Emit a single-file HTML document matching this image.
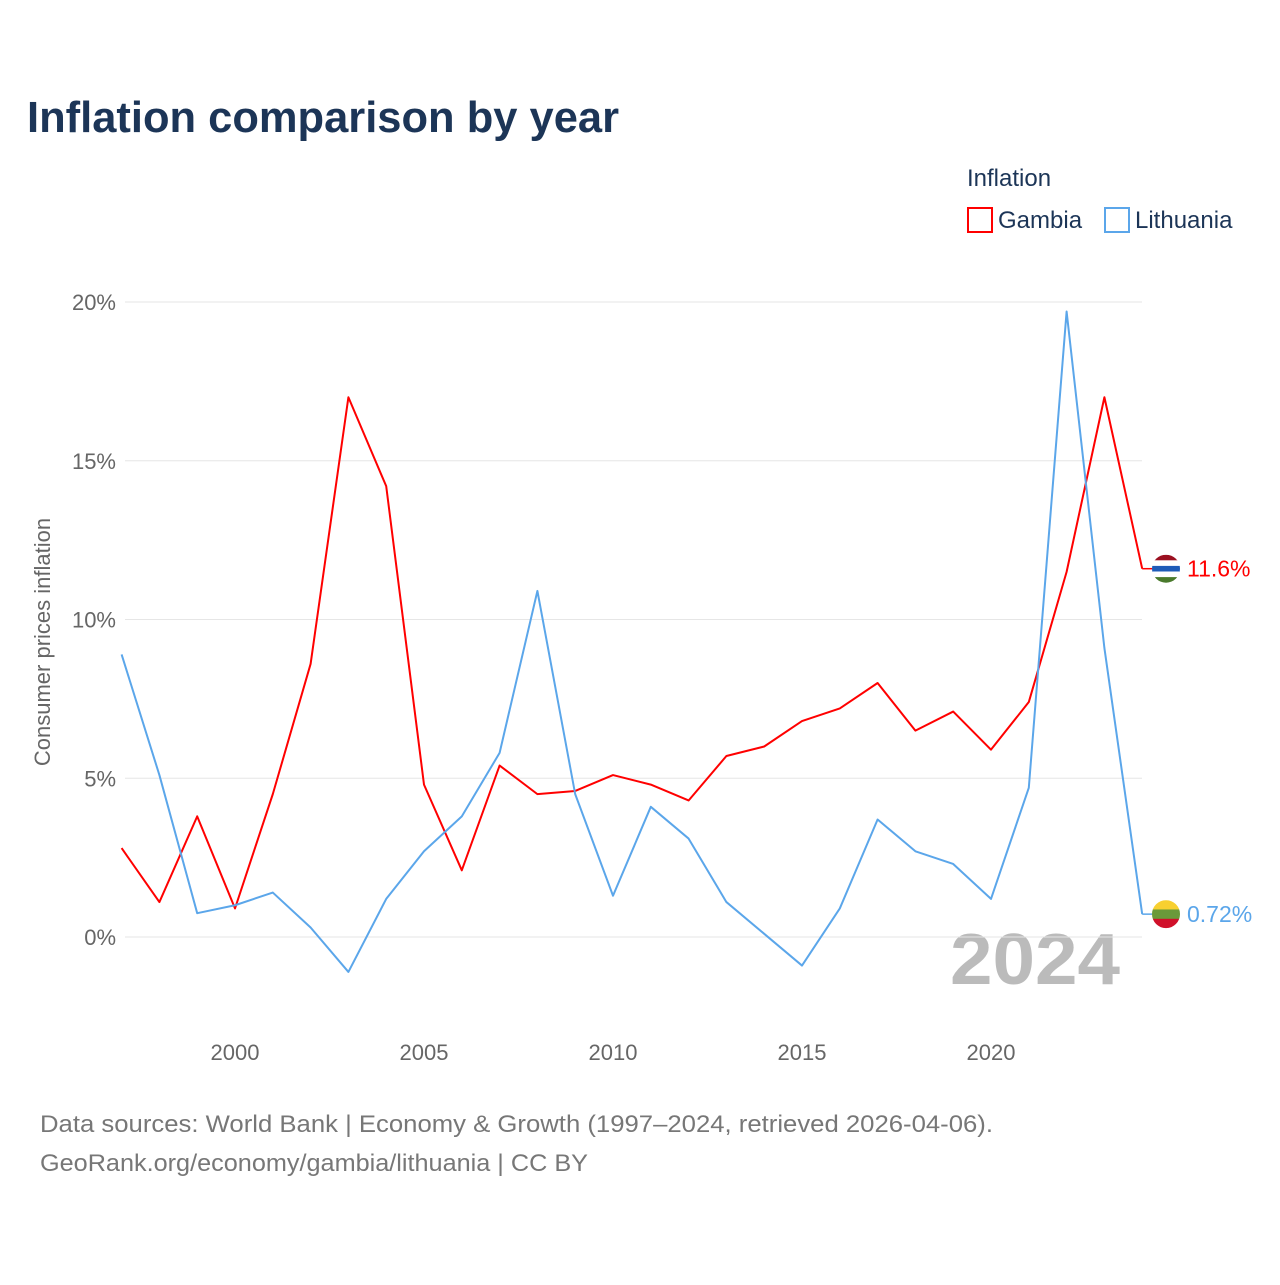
<!DOCTYPE html>
<html><head><meta charset="utf-8"><style>
body{margin:0;background:#fff;font-family:"Liberation Sans",sans-serif}
</style></head><body>
<svg id="c" width="1280" height="1280" xmlns="http://www.w3.org/2000/svg" font-family="Liberation Sans, sans-serif">
<rect width="1280" height="1280" fill="#fff"/>
<text x="27" y="132" font-size="44" font-weight="bold" fill="#1c3557" textLength="592" lengthAdjust="spacingAndGlyphs">Inflation comparison by year</text>
<text x="967" y="186" font-size="24" fill="#1c3557">Inflation</text>
<g><rect x="968" y="208" width="24" height="24" fill="none" stroke="#f00" stroke-width="2"/><text x="998" y="228" font-size="24" fill="#1c3557">Gambia</text></g>
<g><rect x="1105" y="208" width="24" height="24" fill="none" stroke="#5ba6ea" stroke-width="2"/><text x="1135" y="228" font-size="24" fill="#1c3557">Lithuania</text></g>
<text transform="translate(50,642) rotate(-90)" text-anchor="middle" font-size="22" fill="#666">Consumer prices inflation</text>
<text x="950" y="984" font-size="72" font-weight="bold" fill="#bbb" textLength="170" lengthAdjust="spacingAndGlyphs">2024</text>
<g id="grid"></g><g id="lines"></g>
<text x="40" y="1132" font-size="24" fill="#777" textLength="953" lengthAdjust="spacingAndGlyphs">Data sources: World Bank | Economy &amp; Growth (1997–2024, retrieved 2026-04-06).</text>
<text x="40" y="1171" font-size="24" fill="#777" textLength="548" lengthAdjust="spacingAndGlyphs">GeoRank.org/economy/gambia/lithuania | CC BY</text>
</svg>
<script>
const years=[1997,1998,1999,2000,2001,2002,2003,2004,2005,2006,2007,2008,2009,2010,2011,2012,2013,2014,2015,2016,2017,2018,2019,2020,2021,2022,2023,2024];
const gambia=[2.8,1.1,3.8,0.9,4.5,8.6,17.0,14.2,4.8,2.1,5.4,4.5,4.6,5.1,4.8,4.3,5.7,6.0,6.8,7.2,8.0,6.5,7.1,5.9,7.4,11.5,17.0,11.6];
const lithuania=[8.9,5.1,0.75,1.0,1.4,0.3,-1.1,1.2,2.7,3.8,5.8,10.9,4.5,1.3,4.1,3.1,1.1,0.1,-0.9,0.9,3.7,2.7,2.3,1.2,4.7,19.7,9.1,0.72];
const yTicks=[0,5,10,15,20];
const xTicks=[2000,2005,2010,2015,2020];
const NS="http://www.w3.org/2000/svg";
const X=y=>121.6+(y-1997)*37.8;
const Y=v=>937-v*31.75;
const grid=document.getElementById('grid'),lines=document.getElementById('lines');
function mk(tag,attrs,parent){const e=document.createElementNS(NS,tag);for(const k in attrs)e.setAttribute(k,attrs[k]);parent.appendChild(e);return e;}
yTicks.forEach(t=>{
 const l=mk('line',{x1:125,x2:1142,y1:Y(t),y2:Y(t),stroke:'#e6e6e6','stroke-width':1},grid);
 
 
 const tx=mk('text',{x:116,y:Y(t)+8,'text-anchor':'end','font-size':22,fill:'#666'},grid);
 tx.textContent=t+'%';
 
 
});
xTicks.forEach(t=>{
 const tx=mk('text',{x:X(t),y:1060,'text-anchor':'middle','font-size':22,fill:'#666'},grid);
 tx.textContent=t;
 
 
});
function series(vals,color,name,label,flagCols){
 const d=vals.map((v,i)=>(i?'L':'M')+X(years[i])+','+Y(v)).join(' ');
 const p=mk('path',{d:d,fill:'none',stroke:color,'stroke-width':2,'stroke-linejoin':'round'},lines);
 
 
 const last=vals[vals.length-1],ly=Y(last),lx=X(years[years.length-1]);
 mk('line',{x1:lx,x2:lx+10,y1:ly,y2:ly,stroke:color,'stroke-width':1.5},lines);
 const g=mk('g',{},lines);
 
 
 const cp='cp'+name;
 const defs=mk('clipPath',{id:cp},g);mk('circle',{cx:1166,cy:ly,r:14},defs);
 flagCols.forEach((c,i)=>mk('rect',{x:1150,y:ly-14+i*28/flagCols.length,width:32,height:28/flagCols.length+0.5,fill:c,'clip-path':'url(#'+cp+')'},g));
 const t=mk('text',{x:1187,y:ly+8,'font-size':23,fill:color},lines);
 t.textContent=label;
 
 
}
series(gambia,'#f00','gambia','11.6%',['#9b1020','#fff','#1e5bb8','#fff','#4a7a2c']);
series(lithuania,'#5ba6ea','lithuania','0.72%',['#f8d030','#6a9a3a','#d0102a']);
</script>
</body></html>
